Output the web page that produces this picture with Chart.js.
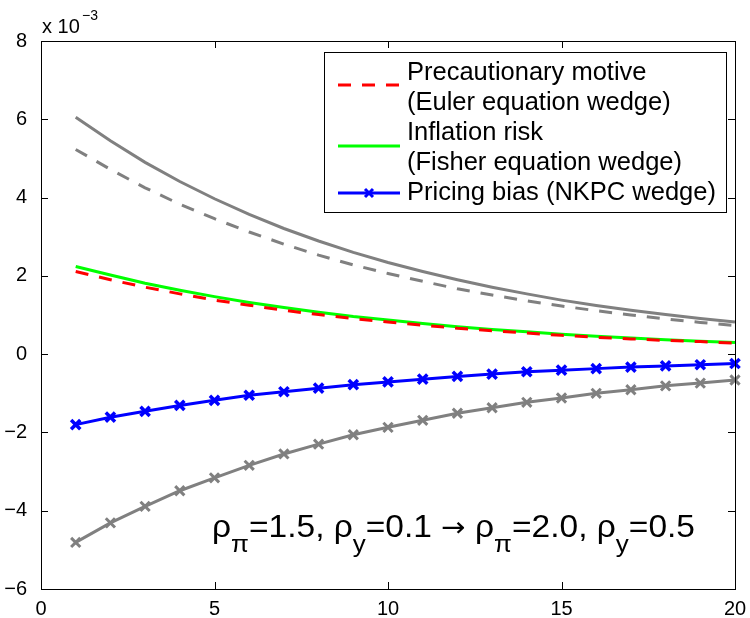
<!DOCTYPE html>
<html>
<head>
<meta charset="utf-8">
<script src="https://cdn.jsdelivr.net/npm/chart.js@4.4.0/dist/chart.umd.min.js"></script>
<style>
  body { margin: 0; background: #fff; }
  canvas { display: block; }
</style>
</head>
<body>
<canvas id="wedgeChart" width="750" height="618"></canvas>
<script>
// values in units of 10^-3
const horizon = [1, 2, 3, 4, 5, 6, 7, 8, 9, 10, 11, 12, 13, 14, 15, 16, 17, 18, 19, 20]
const eulerWedge = [2.11, 1.90, 1.71, 1.54, 1.38, 1.25, 1.12, 1.01, 0.91, 0.82, 0.74, 0.66, 0.60, 0.54, 0.48, 0.43, 0.39, 0.35, 0.32, 0.28]
const fisherWedge = [2.24, 2.02, 1.81, 1.63, 1.47, 1.32, 1.19, 1.07, 0.96, 0.87, 0.78, 0.70, 0.63, 0.57, 0.51, 0.46, 0.41, 0.37, 0.33, 0.30]
const nkpcWedge = [-1.80, -1.61, -1.46, -1.31, -1.18, -1.05, -0.96, -0.87, -0.78, -0.71, -0.64, -0.57, -0.51, -0.45, -0.41, -0.37, -0.33, -0.30, -0.27, -0.24]
const eulerWedgeAlt = [5.23, 4.72, 4.25, 3.83, 3.46, 3.12, 2.81, 2.53, 2.28, 2.06, 1.86, 1.67, 1.51, 1.36, 1.23, 1.11, 1.00, 0.90, 0.81, 0.73]
const fisherWedgeAlt = [6.05, 5.45, 4.90, 4.41, 3.97, 3.57, 3.21, 2.89, 2.60, 2.34, 2.11, 1.90, 1.71, 1.54, 1.38, 1.24, 1.12, 1.01, 0.91, 0.82]
const nkpcWedgeAlt = [-4.81, -4.31, -3.89, -3.49, -3.16, -2.84, -2.55, -2.30, -2.06, -1.87, -1.69, -1.51, -1.37, -1.23, -1.12, -1.00, -0.91, -0.81, -0.74, -0.66]

const xTicks = [0, 5, 10, 15, 20]
const yTicks = [-6, -4, -2, 0, 2, 4, 6, 8]

const legendLabels = [
  ['Precautionary motive', '(Euler equation wedge)'],
  ['Inflation risk', '(Fisher equation wedge)'],
  ['Pricing bias (NKPC wedge)']
]

const FONT = '"Liberation Sans", Arial, Helvetica, sans-serif'
const GRAY = '#808080'

const pts = (vals) => horizon.map((h, i) => ({ x: h, y: vals[i] }))

// box + inward ticks, matlab style
const framePlugin = {
  id: 'frame',
  afterDatasetsDraw (chart) {
    const { ctx, chartArea: a, scales: { x, y } } = chart
    ctx.save()
    ctx.strokeStyle = '#000'
    ctx.lineWidth = 1
    ctx.strokeRect(a.left + 0.5, a.top + 0.5, a.right - a.left, a.bottom - a.top)
    ctx.beginPath()
    xTicks.forEach(v => {
      const px = Math.round(x.getPixelForValue(v)) + 0.5
      ctx.moveTo(px, a.bottom); ctx.lineTo(px, a.bottom - 7)
      ctx.moveTo(px, a.top); ctx.lineTo(px, a.top + 7)
    })
    yTicks.forEach(v => {
      const py = Math.round(y.getPixelForValue(v)) + 0.5
      ctx.moveTo(a.left, py); ctx.lineTo(a.left + 7, py)
      ctx.moveTo(a.right, py); ctx.lineTo(a.right - 7, py)
    })
    ctx.stroke()

    // exponent label
    ctx.fillStyle = '#000'
    ctx.textBaseline = 'alphabetic'
    ctx.font = '20px ' + FONT
    ctx.fillText('x 10', 42, 33)
    ctx.font = '14px ' + FONT
    ctx.fillText('\u22123', 82, 20)
    ctx.restore()
  }
}

const legendPlugin = {
  id: 'boxLegend',
  afterDraw (chart) {
    const ctx = chart.ctx
    const box = { left: 324, top: 52, right: 726, bottom: 212 }
    ctx.save()
    ctx.fillStyle = '#fff'
    ctx.fillRect(box.left, box.top, box.right - box.left, box.bottom - box.top)
    ctx.strokeStyle = '#000'
    ctx.lineWidth = 1
    ctx.strokeRect(box.left + 0.5, box.top + 0.5, box.right - box.left, box.bottom - box.top)

    const samples = [
      { y: 85, color: '#ff0000', dash: [13, 11] },
      { y: 146, color: '#00ff00', dash: [] },
      { y: 193, color: '#0000ff', dash: [], marker: true }
    ]
    samples.forEach(s => {
      ctx.beginPath()
      ctx.setLineDash(s.dash)
      ctx.strokeStyle = s.color
      ctx.lineWidth = 3
      ctx.moveTo(338, s.y); ctx.lineTo(400, s.y)
      ctx.stroke()
      if (s.marker) {
        ctx.setLineDash([])
        ctx.beginPath()
        const r = 4
        ctx.moveTo(369 - r, s.y - r); ctx.lineTo(369 + r, s.y + r)
        ctx.moveTo(369 - r, s.y + r); ctx.lineTo(369 + r, s.y - r)
        ctx.stroke()
      }
    })
    ctx.setLineDash([])

    ctx.fillStyle = '#000'
    ctx.font = '25.5px ' + FONT
    ctx.textBaseline = 'alphabetic'
    let baseline = 80
    legendLabels.forEach(lines => {
      lines.forEach(t => {
        ctx.fillText(t, 407, baseline)
        baseline += 30
      })
    })
    ctx.restore()
  }
}

const notePlugin = {
  id: 'ruleNote',
  afterDraw (chart) {
    const ctx = chart.ctx
    // [text, kind]  kind: 0 main, 1 subscript, 2 arrow
    const pieces = [
      ['\u03c1', 0], ['\u03c0', 1], ['=1.5, \u03c1', 0], ['y', 1], ['=0.1 ', 0],
      ['\u2192', 2], [' \u03c1', 0], ['\u03c0', 1], ['=2.0, \u03c1', 0], ['y', 1], ['=0.5', 0]
    ]
    const fonts = ['31px ' + FONT, '24px ' + FONT, '27px "DejaVu Sans", sans-serif']
    const baselines = [537, 552, 536]
    ctx.save()
    // total natural width, then stretch to the span seen in the figure
    let total = 0
    pieces.forEach(([t, k]) => {
      ctx.font = fonts[k]
      total += ctx.measureText(t).width
    })
    const sx = 483 / total
    ctx.translate(212, 0)
    ctx.scale(sx, 1)
    ctx.fillStyle = '#000'
    ctx.textBaseline = 'alphabetic'
    let x = 0
    pieces.forEach(([t, k]) => {
      ctx.font = fonts[k]
      ctx.fillText(t, x, baselines[k])
      x += ctx.measureText(t).width
    })
    ctx.restore()
  }
}

const tickFont = { family: FONT, size: 20 }
const minusFmt = v => (v < 0 ? '\u2212' + Math.abs(v) : String(v))

new Chart(document.getElementById('wedgeChart'), {
  type: 'line',
  data: {
    datasets: [
      { data: pts(fisherWedgeAlt), borderColor: GRAY, borderWidth: 3, pointRadius: 0 },
      { data: pts(eulerWedgeAlt), borderColor: GRAY, borderWidth: 3, borderDash: [13, 11], pointRadius: 0 },
      {
        data: pts(nkpcWedgeAlt), borderColor: GRAY, borderWidth: 3,
        pointStyle: 'crossRot', pointRadius: 6.5, pointBorderWidth: 3, pointBorderColor: GRAY
      },
      { data: pts(eulerWedge), borderColor: '#ff0000', borderWidth: 3, borderDash: [13, 11], pointRadius: 0 },
      { data: pts(fisherWedge), borderColor: '#00ff00', borderWidth: 3, pointRadius: 0 },
      {
        data: pts(nkpcWedge), borderColor: '#0000ff', borderWidth: 3,
        pointStyle: 'crossRot', pointRadius: 6.5, pointBorderWidth: 3.5, pointBorderColor: '#0000ff'
      }
    ]
  },
  options: {
    responsive: false,
    animation: false,
    devicePixelRatio: 1,
    layout: { padding: { top: 41, right: 15, left: 0, bottom: 0 } },
    elements: { line: { tension: 0, fill: false } },
    datasets: { line: { clip: false } },
    plugins: {
      legend: { display: false },
      tooltip: { enabled: false }
    },
    scales: {
      x: {
        type: 'linear',
        min: 0,
        max: 20,
        afterBuildTicks: s => { s.ticks = xTicks.map(v => ({ value: v })) },
        afterFit: s => { s.height = 29 },
        grid: { display: false },
        border: { display: false },
        ticks: { font: tickFont, color: '#000', padding: 0, maxRotation: 0, callback: minusFmt }
      },
      y: {
        type: 'linear',
        min: -6,
        max: 8,
        afterBuildTicks: s => { s.ticks = yTicks.map(v => ({ value: v })) },
        afterFit: s => { s.width = 41 },
        grid: { display: false },
        border: { display: false },
        ticks: { font: tickFont, color: '#000', padding: 6, callback: minusFmt }
      }
    }
  },
  plugins: [framePlugin, legendPlugin, notePlugin]
})
</script>
</body>
</html>
